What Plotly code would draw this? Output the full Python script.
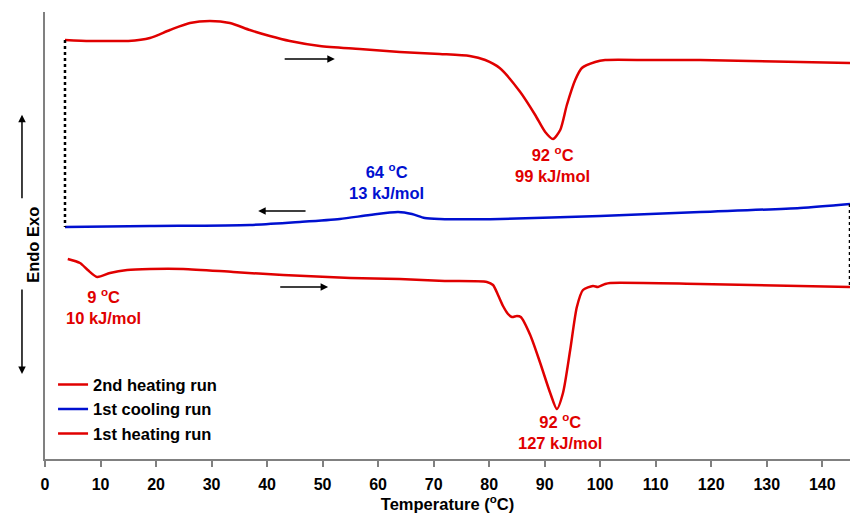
import plotly.graph_objects as go

# ---- Data (temperature in °C, heat flow in arbitrary units) ----
heat2_T = [3.6, 8.1, 12.0, 15.0, 18.9, 22.5, 26.1, 29.7, 33.3, 36.9, 40.5, 44.1, 49.5, 56.7,
           63.9, 71.1, 76.5, 79.3, 81.9, 85.6, 88.3, 90.1, 91.5, 92.8, 94.0, 95.5,
           96.7, 99.1, 100.9, 109.0, 118.0, 127.0, 136.0, 145.0]
heat2_H = [419, 418, 418, 418, 421, 429, 436, 438, 436, 429, 423, 418, 413, 410,
           407, 405, 403, 399, 391, 367, 344, 327, 320, 329, 354, 379,
           391, 397, 399, 399, 399, 398, 397, 396]

cool_T = [3.6, 18.9, 36.9, 45.9, 53.1, 58.5, 63.6, 66.1, 68.4, 71.1, 82.0,
          100.0, 118.0, 136.0, 145.0]
cool_H = [232, 233, 234, 237, 240, 244, 247, 245, 241, 240, 240,
          243, 247, 251, 255]

heat1_T = [4.1, 6.3, 7.7, 9.4, 11.7, 14.8, 18.9, 24.9, 33.9, 42.9, 55.0, 63.9, 72.0,
           79.6, 80.7, 81.6, 82.5, 83.4, 84.1, 85.0, 85.7, 87.4, 89.2, 91.0,
           92.2, 93.3, 94.6, 95.8, 96.9, 98.7, 99.6, 100.9, 101.8, 118.0, 145.0]
heat1_H = [200, 196, 189, 182, 186, 189, 190, 190, 187, 184, 181, 180, 178,
           177, 174, 164, 153, 145, 142, 143, 142, 124, 96, 66,
           50, 66, 109, 152, 169, 173, 172, 175, 176, 175, 172]

x_ticks = list(range(0, 141, 10))

labels = [
    dict(T=91.5, H=295, text="92 <sup>o</sup>C<br>99 kJ/mol", color="#e00000"),
    dict(T=61.6, H=278, text="64 <sup>o</sup>C<br>13 kJ/mol", color="#0010d0"),
    dict(T=10.6, H=153, text="9 <sup>o</sup>C<br>10 kJ/mol", color="#e00000"),
    dict(T=92.8, H=27.5, text="92 <sup>o</sup>C<br>127 kJ/mol", color="#e00000"),
]

# direction arrows: (tail T, head T, H)
dir_arrows = [(42.9, 52.2, 400), (47.2, 38.4, 248), (42.1, 51.0, 172)]

RED = "#e00000"
BLUE = "#0010d0"
FONT = "Liberation Sans, Arial, sans-serif"

fig = go.Figure()
fig.add_trace(go.Scatter(x=heat2_T, y=heat2_H, mode="lines", name="2nd heating run",
                         line=dict(color=RED, width=2.5, shape="spline", smoothing=0.7)))
fig.add_trace(go.Scatter(x=cool_T, y=cool_H, mode="lines", name="1st cooling run",
                         line=dict(color=BLUE, width=2.5, shape="spline", smoothing=0.7)))
fig.add_trace(go.Scatter(x=heat1_T, y=heat1_H, mode="lines", name="1st heating run",
                         line=dict(color=RED, width=2.5, shape="spline", smoothing=0.7)))

# dotted connectors between runs
fig.add_trace(go.Scatter(x=[heat2_T[0], cool_T[0]], y=[heat2_H[0], cool_H[0]], mode="lines",
                         showlegend=False, line=dict(color="black", width=2.5, dash="dot")))
fig.add_trace(go.Scatter(x=[cool_T[-1], heat1_T[-1]], y=[cool_H[-1], heat1_H[-1]], mode="lines",
                         showlegend=False, line=dict(color="black", width=2.5, dash="dot")))

for lab in labels:
    fig.add_annotation(x=lab["T"], y=lab["H"], text=lab["text"], showarrow=False,
                       font=dict(family=FONT, size=16.5, color=lab["color"], weight="bold"),
                       xanchor="center", yanchor="middle")

for t0, t1, h in dir_arrows:
    fig.add_annotation(x=t1, y=h, ax=t0, ay=h, axref="x", ayref="y", xref="x", yref="y",
                       text="", showarrow=True, arrowhead=2, arrowsize=1, arrowwidth=1.5,
                       arrowcolor="black")

# y-axis title with arrows
fig.add_annotation(x=-0.0286, y=0.479, xref="paper", yref="paper", text="Endo Exo",
                   textangle=-90, showarrow=False,
                   font=dict(family=FONT, size=16.5, color="black", weight="bold"))
fig.add_annotation(x=-0.0286, y=0.770, xref="paper", yref="paper", text="",
                   showarrow=True, ax=0, ay=85, arrowhead=2, arrowwidth=1.5, arrowcolor="black")
fig.add_annotation(x=-0.0286, y=0.190, xref="paper", yref="paper", text="",
                   showarrow=True, ax=0, ay=-86, arrowhead=2, arrowwidth=1.5, arrowcolor="black")

fig.update_layout(
    width=852, height=517,
    margin=dict(l=45, r=2, t=12, b=58),
    plot_bgcolor="white", paper_bgcolor="white",
    font=dict(family=FONT, size=16, color="black"),
    legend=dict(x=0.01, y=0.205, xanchor="left", yanchor="top",
                bgcolor="rgba(0,0,0,0)", itemwidth=30,
                font=dict(family=FONT, size=16.5, color="black", weight="bold")),
    xaxis=dict(range=[0, 145], tickvals=x_ticks, showgrid=False, zeroline=False,
               showline=True, linecolor="#808080", linewidth=2,
               ticks="outside", ticklen=6, tickcolor="#808080", tickwidth=1.5,
               ticklabelstandoff=4,
               tickfont=dict(family=FONT, size=16, color="black", weight="bold"),
               title=dict(text="Temperature (<sup>o</sup>C)", standoff=4,
                          font=dict(family=FONT, size=16.5, color="black", weight="bold"))),
    yaxis=dict(range=[0, 447], showticklabels=False, showgrid=False, zeroline=False,
               showline=True, linecolor="#808080", linewidth=2, ticks=""),
)

fig.write_html("out.html")
